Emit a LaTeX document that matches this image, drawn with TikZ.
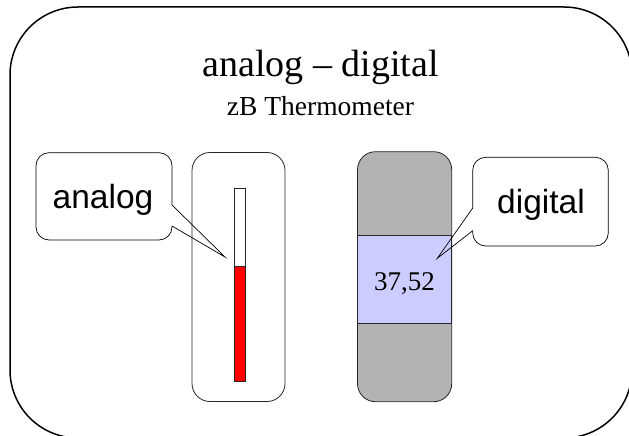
\documentclass[tikz,border=0pt]{standalone}
\usepackage{fontspec}
\setmainfont{Liberation Serif}
\newfontfamily\arialfont{Liberation Sans}
\definecolor{dispgray}{HTML}{B3B3B3}
\definecolor{dispblue}{HTML}{CCCCFF}
\definecolor{tubered}{HTML}{FF0000}
\begin{document}
\begin{tikzpicture}[x=1pt,y=-1pt,
  thin line/.style={draw=black!85,line width=0.8pt},
  calloutline/.style={draw=black,line width=0.7pt,rounded corners=13pt},
  pointerline/.style={draw=black,line width=0.7pt,line join=miter},
  sanslabel/.style={inner sep=0pt,anchor=base,font=\arialfont\fontsize{33.5}{36}\selectfont},
  seriflabel/.style={inner sep=0pt,anchor=base}]
\useasboundingbox (0,0) rectangle (629,436);
% outer frame
\draw[line width=1.5pt,rounded corners=68pt] (10,7) rectangle (632,438);
% titles
\node[seriflabel,font=\fontsize{38}{40}\selectfont] (title) at (320.5,77) {analog – digital};
\node[seriflabel,font=\fontsize{27.5}{30}\selectfont] (subtitle) at (320.5,115) {zB Thermometer};
% analog thermometer
\draw[thin line,rounded corners=18pt] (192,152.5) rectangle (285,401.5);
\draw[thin line,fill=white] (234.3,188.3) rectangle (245.6,266.7);
\draw[thin line,fill=tubered] (234.3,266.7) rectangle (245.6,381);
% digital display
\draw[thin line,fill=dispgray,rounded corners=18pt] (357.5,151.7) rectangle (451.7,401.7);
\draw[thin line,fill=dispblue] (357.5,235) rectangle (451.7,323.3);
\node[seriflabel,font=\fontsize{27}{29}\selectfont] (value) at (404.6,290) {37,52};
% analog callout
\coordinate (atip) at (225,257);
\coordinate (aup) at (172,205);
\coordinate (alow) at (172,226);
\draw[calloutline] (aup) -- (172,152.7) -- (36,152.7) -- (36,240) -- (172,240) -- (alow);
\draw[pointerline] (aup) -- (atip) -- (alow);
\node[sanslabel] (analog) at (103,208) {analog};
% digital callout
\coordinate (dtip) at (437.3,258.3);
\coordinate (dup) at (472.7,208);
\coordinate (dlow) at (472.7,230.7);
\draw[calloutline] (dup) -- (472.7,157.3) -- (608.3,157.3) -- (608.3,246) -- (472.7,246) -- (dlow);
\draw[pointerline] (dup) -- (dtip) -- (dlow);
\node[sanslabel] (digital) at (541,213) {digital};
\end{tikzpicture}
\end{document}
